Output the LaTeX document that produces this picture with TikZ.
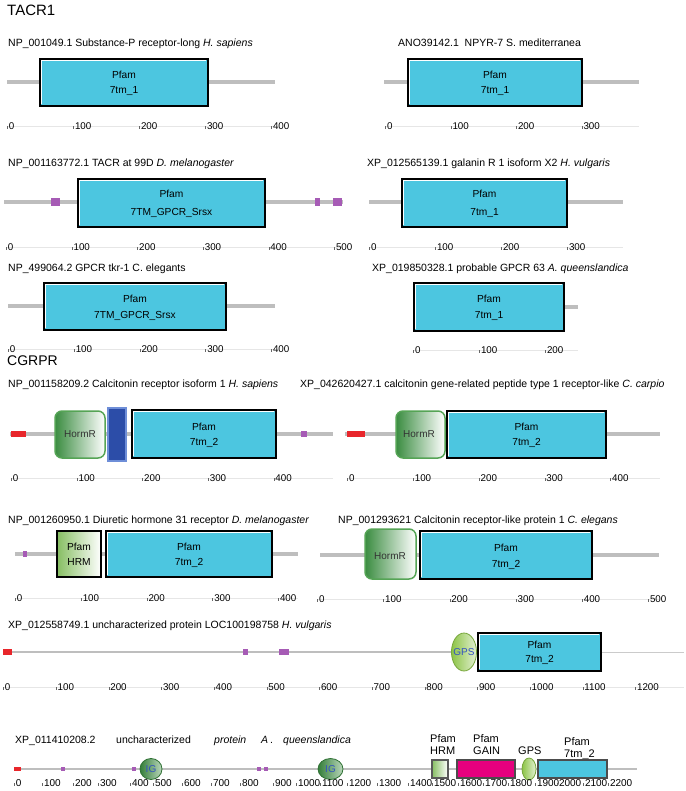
\documentclass[tikz,border=0pt]{standalone}
\usepackage{fontspec}
\setmainfont{Liberation Sans}
\usetikzlibrary{calc,shapes.geometric}
\definecolor{pcyan}{HTML}{4CC6E0}
\definecolor{bbgray}{HTML}{BEBEBE}
\definecolor{dred}{HTML}{E8262B}
\definecolor{dpurp}{HTML}{A65BB5}
\definecolor{hgreen}{HTML}{3A8C40}
\definecolor{hborder}{HTML}{55A455}
\definecolor{lgreen}{HTML}{86BE62}
\definecolor{dblue}{HTML}{2C4DA8}
\definecolor{bblue}{HTML}{6E8ED8}
\definecolor{gpsgreen}{HTML}{8DC447}
\definecolor{gpstext}{HTML}{3352C2}
\definecolor{gaincol}{HTML}{E6007E}
\definecolor{axfaint}{HTML}{E6E6E6}
\definecolor{tickc}{HTML}{666666}
\definecolor{htext}{HTML}{333333}
\newcommand{\tickm}{\textcolor{tickc}{\rule[0.8pt]{0.6pt}{2.6pt}}\kern1.2pt}
\tikzset{
  lbl/.style={anchor=base west, inner sep=0pt, font=\fontsize{10.5}{12}\selectfont},
  ttl/.style={anchor=base west, inner sep=0pt, font=\fontsize{15}{18}\selectfont},
  bb/.style={draw=bbgray, line width=4pt},
  btxt/.style={anchor=base, inner sep=0pt, font=\fontsize{10.2}{12}\selectfont},
  axl/.style={anchor=base west, inner sep=0pt, font=\fontsize{9.8}{11}\selectfont},
  axline/.style={draw=axfaint, line width=0.6pt},
  redseg/.style={fill=dred},
  purp/.style={fill=dpurp},
  hormr/.style={rounded corners=7pt, left color=hgreen, right color=white, draw=hborder, line width=1.5pt},
  htxt/.style={inner sep=0pt, text=htext, font=\fontsize{10}{12}\selectfont},
  hrmbox/.style={left color=lgreen, right color=white, draw=black, line width=1.4pt},
  bluebox/.style={fill=dblue, draw=bblue, line width=1.2pt},
  gpsell/.style={ellipse, left color=gpsgreen, right color=gpsgreen!25, draw=gpsgreen!85!black, line width=0.8pt, inner sep=0pt},
  igell/.style={ellipse, left color=hgreen!90!black, right color=hgreen!35, draw=hgreen!80!black, line width=0.8pt, inner sep=0pt},
  domtxt/.style={text=gpstext, font=\fontsize{10}{12}\selectfont},
  toplbl/.style={anchor=base west, inner sep=0pt, align=left, font=\fontsize{11}{12}\selectfont},
}
\newcommand{\pfbox}[8]{%
  \fill[pcyan] (#2,#3) rectangle (#4,#5);
  \draw[line width=1.6pt] (#2,#3) rectangle (#4,#5);
  \draw[white, line width=0.9pt] (#2+1.7,#5-1.7) -- (#2+1.7,#3+1.7) -- (#4-1.7,#3+1.7);
  \node[btxt] (#1a) at ({(#2+#4)/2},#6) {Pfam};
  \node[btxt] (#1b) at ({(#2+#4)/2},#7) {#8};
}
\newcommand{\axrow}[6]{%
  \draw[axline] (#2,#1) -- (#5,#1);
  \foreach \k in {0,...,#4} {
    \pgfmathtruncatemacro{\vv}{100*\k}
    \node[axl] (#6-\k) at ({#2+\k*#3},{#1+3.4}) {\tickm\vv};
  }
}
\begin{document}
\begin{tikzpicture}[x=1pt,y=-1pt]
\useasboundingbox[fill=white] (0,0) rectangle (685,791);

% ---------------- TACR1 ----------------
\node[ttl] (t1) at (7,15.5) {TACR1};

% panel 1
\node[lbl] (l1) at (8,46.5) {NP\_001049.1 Substance-P receptor-long \textit{H. sapiens}};
\coordinate (a1) at (7,82); \coordinate (b1) at (275,82);
\draw[bb] (a1) -- (b1);
\pfbox{p1}{40}{59}{208}{106}{78.5}{93.5}{7tm\_1}
\axrow{126}{7}{66}{4}{275}{x1}

% panel 2
\node[lbl] (l2) at (398,46.5) {ANO39142.1\ \ NPYR-7 S. mediterranea};
\coordinate (a2) at (384,82); \coordinate (b2) at (639,82);
\draw[bb] (a2) -- (b2);
\pfbox{p2}{408}{59}{582}{106}{78.5}{93.5}{7tm\_1}
\axrow{126}{385}{65.5}{3}{639}{x2}

% panel 3
\node[lbl] (l3) at (8,166.5) {NP\_001163772.1 TACR at 99D \textit{D. melanogaster}};
\coordinate (a3) at (4,202); \coordinate (b3) at (343,202);
\draw[bb] (a3) -- (b3);
\fill[purp] (51,198) rectangle (60,206);
\fill[purp] (315,198) rectangle (320,206);
\fill[purp] (333,198) rectangle (342,206);
\pfbox{p3}{78}{179}{265}{227}{197.8}{215.5}{7TM\_GPCR\_Srsx}
\axrow{247}{6}{65.6}{5}{343}{x3}

% panel 4
\node[lbl] (l4) at (367,166.5) {XP\_012565139.1 galanin R 1 isoform X2 \textit{H. vulgaris}};
\coordinate (a4) at (369,202); \coordinate (b4) at (623,202);
\draw[bb] (a4) -- (b4);
\pfbox{p4}{402}{179}{567}{227}{197.8}{215.5}{7tm\_1}
\axrow{247}{369}{66}{3}{623}{x4}

% panel 5
\node[lbl] (l5) at (8,271.5) {NP\_499064.2 GPCR tkr-1 C. elegants};
\coordinate (a5) at (8,306); \coordinate (b5) at (275,306);
\draw[bb] (a5) -- (b5);
\pfbox{p5}{44}{283}{226}{330}{302.8}{318}{7TM\_GPCR\_Srsx}
\axrow{349}{8}{65.75}{4}{275}{x5}

% panel 6
\node[lbl] (l6) at (372,271.5) {XP\_019850328.1 probable GPCR 63 \textit{A. queenslandica}};
\coordinate (a6) at (564,307); \coordinate (b6) at (578,307);
\draw[bb] (a6) -- (b6);
\pfbox{p6}{414}{283}{564}{331}{302.8}{318}{7tm\_1}
\axrow{350}{413}{66}{2}{578}{x6}

% ---------------- CGRPR ----------------
\node[ttl, font=\fontsize{14}{17}\selectfont] (t2) at (7,365) {CGRPR};

\node[lbl] (l7) at (8,387.5) {NP\_001158209.2 Calcitonin receptor isoform 1 \textit{H. sapiens}};
\node[lbl] (l8) at (300,387.5) {XP\_042620427.1 calcitonin gene-related peptide type 1 receptor-like \textit{C. carpio}};

% panel 7
\coordinate (a7) at (10,434); \coordinate (b7) at (333,434);
\draw[bb] (a7) -- (b7);
\fill[redseg] (11,431) rectangle (26,437);
\draw[hormr] (55,411) rectangle (105,458);
\node[htxt] (h7) at (80,434) {HormR};
\draw[bluebox] (108,408) rectangle (126,461);
\pfbox{p7}{132}{410}{276}{458}{430.5}{445.5}{7tm\_2}
\fill[purp] (301,431) rectangle (307,437);
\axrow{478}{11}{65.6}{4}{333}{x7}

% panel 8
\coordinate (a8) at (345,434); \coordinate (b8) at (660,434);
\draw[bb] (a8) -- (b8);
\fill[redseg] (347,431) rectangle (365,437);
\draw[hormr] (396,411) rectangle (445,458);
\node[htxt] (h8) at (419,434) {HormR};
\pfbox{p8}{447}{411}{606}{458}{430.5}{445.5}{7tm\_2}
\axrow{478}{347}{65.8}{4}{660}{x8}

\node[lbl] (l9) at (8,523.5) {NP\_001260950.1 Diuretic hormone 31 receptor \textit{D. melanogaster}};
\node[lbl] (l10) at (338,523.5) {NP\_001293621 Calcitonin receptor-like protein 1 \textit{C. elegans}};

% panel 9
\coordinate (a9) at (15,554); \coordinate (b9) at (298,554);
\draw[bb] (a9) -- (b9);
\fill[purp] (23,551) rectangle (27,557);
\draw[hrmbox] (57,531) rectangle (101,577);
\node[btxt] (h9a) at (79,550.5) {Pfam};
\node[btxt] (h9b) at (79,565.5) {HRM};
\pfbox{p9}{106}{531}{272}{577}{550.5}{565.5}{7tm\_2}
\axrow{598}{15}{65.75}{4}{298}{x9}

% panel 10
\coordinate (a10) at (320,555); \coordinate (b10) at (659,555);
\draw[bb] (a10) -- (b10);
\draw[hormr] (365,529) rectangle (416,579);
\node[htxt] (h10) at (390,556) {HormR};
\pfbox{p10}{420}{531}{592}{579}{551.5}{567.5}{7tm\_2}
\axrow{599}{317}{66.2}{5}{659}{x10}

% panel 11
\node[lbl] (l11) at (8,628.5) {XP\_012558749.1 uncharacterized protein LOC100198758 \textit{H. vulgaris}};
\coordinate (a11) at (3,652); \coordinate (b11) at (452,652);
\coordinate (c11) at (601,652); \coordinate (d11) at (684,652);
\draw[draw=bbgray, line width=2.5pt] (a11) -- (b11);
\draw[draw=bbgray!80, line width=1pt] (c11) -- (d11);
\fill[redseg] (3,649) rectangle (12,655);
\fill[purp] (243,649) rectangle (248,655);
\fill[purp] (279,649) rectangle (289,655);
\node[gpsell, minimum width=25pt, minimum height=38pt] (g11) at (464,652) {};
\node[domtxt] (g11t) at (464,652) {GPS};
\pfbox{p11}{478}{633}{601}{671}{648.7}{662.5}{7tm\_2}
\axrow{687}{3}{52.67}{12}{684}{x11}

% panel 12
\node[lbl] (m1) at (15,743.5) {XP\_011410208.2};
\node[lbl] (m2) at (116,743.5) {uncharacterized};
\node[lbl] (m3) at (214,743.5) {\textit{protein}};
\node[lbl] (m4) at (261,743.5) {\textit{A}};
\node[lbl] (m5) at (270,743.5) {.};
\node[lbl] (m6) at (283,743.5) {\textit{queenslandica}};
\node[toplbl] (u1) at (430,742) {Pfam};
\node[toplbl] (u2) at (430,754) {HRM};
\node[toplbl] (u3) at (473,742) {Pfam};
\node[toplbl] (u4) at (473,754) {GAIN};
\node[toplbl] (u5) at (518,754) {GPS};
\node[toplbl] (u6) at (564,745) {Pfam};
\node[toplbl] (u7) at (564,757) {7tm\_2};
\coordinate (a12) at (14,769); \coordinate (b12) at (637,769);
\draw[draw=bbgray, line width=1.5pt] (a12) -- (b12);
\fill[redseg] (14,767.3) rectangle (21,770.7);
\foreach \px in {63,134,259,266} \fill[purp] (\px-1.6,767.4) rectangle (\px+1.6,770.6);
\node[igell, minimum width=22pt, minimum height=21pt] (ig1) at (151,769) {};
\node[domtxt] (ig1t) at (151,769) {IG};
\node[igell, minimum width=25pt, minimum height=21pt] (ig2) at (330.5,769) {};
\node[domtxt] (ig2t) at (330.5,769) {IG};
\draw[left color=lgreen, right color=white, draw=black!65, line width=1.2pt] (432,760) rectangle (448,778);
\draw[fill=gaincol, draw=black!70, line width=1.2pt] (457,760) rectangle (515,778);
\node[gpsell, minimum width=14pt, minimum height=22pt] (g12) at (529,769) {};
\draw[fill=pcyan, draw=black!70, line width=1.2pt] (538,760) rectangle (607,778);
\foreach \px/\vv [count=\i] in {14/0,42/100,73/200,98/300,130/400,153/500,182/600,211/700,240/800,273/900,296/1000,320/1100,347/1200,377/1300,408/1400,432/1500,458/1600,483/1700,508/1800,535/1900,557/2000,583/2100,608/2200}
  \node[axl, font=\fontsize{10}{11}\selectfont] (y\i) at (\px,786.4) {\tickm\vv};
\end{tikzpicture}
\end{document}
